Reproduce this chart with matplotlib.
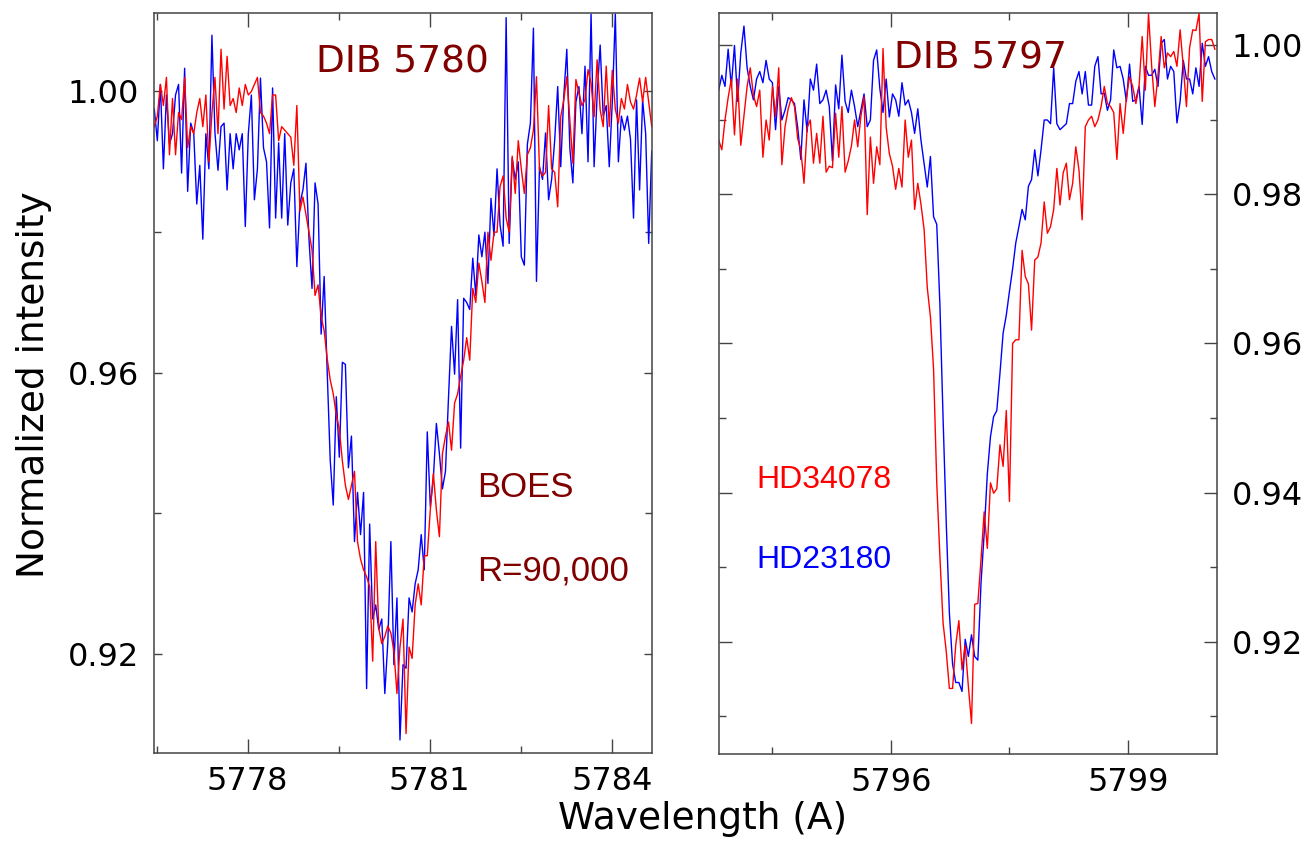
import numpy as np
import matplotlib.pyplot as plt
from matplotlib.ticker import MultipleLocator, FormatStrFormatter

# BOES spectra (R=90,000), normalized flux around the 5780 and 5797 DIBs
hd34078_5780 = [
    0.9950, 0.9965, 1.0010, 0.9980, 1.0020, 0.9910, 0.9990, 0.9910, 0.9970, 0.9960,
    1.0020, 0.9920, 0.9950, 0.9940, 0.9970, 0.9990, 0.9950, 0.9995, 0.9900, 0.9970,
    1.0020, 0.9940, 1.0060, 0.9975, 1.0050, 0.9980, 0.9990, 0.9970, 1.0005, 0.9980,
    1.0010, 0.9995, 1.0000, 1.0010, 1.0020, 0.9970, 0.9965, 0.9955, 0.9940, 0.9995,
    0.9995, 0.9930, 0.9950, 0.9945, 0.9940, 0.9935, 0.9895, 0.9980, 0.9830, 0.9850,
    0.9825, 0.9800, 0.9775, 0.9710, 0.9725, 0.9680, 0.9660, 0.9620, 0.9590, 0.9570,
    0.9540, 0.9520, 0.9475, 0.9440, 0.9420, 0.9440, 0.9460, 0.9360, 0.9335, 0.9320,
    0.9310, 0.9296, 0.9190, 0.9360, 0.9237, 0.9215, 0.9225, 0.9240, 0.9230, 0.9205,
    0.9144, 0.9210, 0.9250, 0.9087, 0.9210, 0.9194, 0.9270, 0.9300, 0.9270, 0.9340,
    0.9340, 0.9405, 0.9457, 0.9405, 0.9367, 0.9485, 0.9510, 0.9530, 0.9490, 0.9557,
    0.9570, 0.9595, 0.9618, 0.9650, 0.9618, 0.9720, 0.9700, 0.9756, 0.9730, 0.9700,
    0.9800, 0.9760, 0.9800, 0.9800, 0.9865, 0.9880, 0.9820, 0.9800, 0.9908, 0.9855,
    0.9930, 0.9890, 0.9855, 0.9910, 0.9920, 0.9945, 1.0021, 0.9889, 0.9880, 0.9885,
    0.9980, 0.9890, 0.9885, 0.9836, 0.9964, 0.9988, 1.0021, 0.9960, 0.9898, 1.0017,
    0.9998, 0.9980, 0.9988, 1.0031, 1.0012, 0.9964, 1.0045, 0.9974, 0.9950, 1.0036,
    0.9950, 1.0030, 0.9975, 0.9955, 0.9990, 0.9975, 1.0010, 0.9985, 0.9975, 0.9995,
    1.0019, 0.9985, 1.0020, 0.9985, 0.9950,
]
hd23180_5780 = [
    0.9975, 0.9930, 1.0010, 0.9890, 0.9995, 0.9925, 0.9940, 0.9995, 1.0010, 0.9884,
    1.0033, 0.9858, 0.9955, 0.9941, 0.9840, 0.9895, 0.9790, 0.9940, 0.9890, 1.0080,
    0.9941, 0.9888, 0.9950, 0.9955, 0.9860, 0.9940, 0.9890, 0.9940, 0.9917, 0.9940,
    0.9808, 0.9940, 0.9995, 0.9846, 0.9890, 1.0019, 0.9920, 0.9900, 0.9806, 1.0005,
    0.9820, 0.9927, 0.9820, 0.9940, 0.9810, 0.9870, 0.9890, 0.9751, 0.9840, 0.9860,
    0.9898, 0.9790, 0.9720, 0.9870, 0.9840, 0.9655, 0.9737, 0.9602, 0.9476, 0.9412,
    0.9566, 0.9480, 0.9615, 0.9612, 0.9465, 0.9510, 0.9360, 0.9430, 0.9370, 0.9430,
    0.9151, 0.9385, 0.9250, 0.9270, 0.9235, 0.9250, 0.9144, 0.9218, 0.9360, 0.9185,
    0.9280, 0.9078, 0.9185, 0.9180, 0.9280, 0.9260, 0.9300, 0.9320, 0.9370, 0.9320,
    0.9516, 0.9410, 0.9450, 0.9528, 0.9485, 0.9435, 0.9460, 0.9565, 0.9666, 0.9598,
    0.9704, 0.9493, 0.9706, 0.9700, 0.9690, 0.9763, 0.9710, 0.9796, 0.9765, 0.9800,
    0.9727, 0.9848, 0.9795, 0.9890, 0.9810, 0.9780, 1.0105, 0.9784, 0.9905, 0.9875,
    0.9900, 0.9765, 0.9753, 0.9925, 0.9955, 1.0090, 0.9730, 0.9893, 0.9875, 0.9941,
    0.9846, 0.9875, 0.9930, 1.0007, 0.9893, 0.9993, 1.0060, 0.9920, 0.9870, 0.9985,
    1.0007, 0.9940, 1.0036, 0.9900, 1.0110, 0.9893, 0.9995, 1.0066, 0.9965, 0.9980,
    0.9893, 0.9985, 1.0110, 0.9900, 0.9965, 0.9945, 0.9965, 0.9932, 0.9820, 0.9988,
    0.9860, 0.9988, 0.9940, 0.9784, 0.9915,
]
hd34078_5797 = [
    0.9873, 0.9860, 0.9900, 0.9930, 0.9955, 0.9880, 0.9955, 0.9866, 0.9905, 0.9945,
    0.9970, 0.9933, 0.9918, 0.9940, 0.9850, 0.9900, 0.9873, 0.9945, 0.9905, 0.9970,
    0.9840, 0.9891, 0.9915, 0.9930, 0.9918, 0.9875, 0.9860, 0.9815, 0.9890, 0.9900,
    0.9842, 0.9882, 0.9842, 0.9905, 0.9830, 0.9838, 0.9836, 0.9909, 0.9850, 0.9918,
    0.9830, 0.9845, 0.9865, 0.9900, 0.9864, 0.9905, 0.9931, 0.9773, 0.9877, 0.9815,
    0.9864, 0.9840, 0.9996, 0.9890, 0.9855, 0.9838, 0.9807, 0.9835, 0.9810, 0.9900,
    0.9850, 0.9873, 0.9780, 0.9815, 0.9787, 0.9753, 0.9675, 0.9636, 0.9565, 0.9413,
    0.9314, 0.9225, 0.9187, 0.9137, 0.9137, 0.9195, 0.9228, 0.9162, 0.9195, 0.9140,
    0.9090, 0.9250, 0.9251, 0.9310, 0.9374, 0.9325, 0.9413, 0.9399, 0.9405, 0.9464,
    0.9435, 0.9510, 0.9388, 0.9600, 0.9605, 0.9605, 0.9725, 0.9690, 0.9680, 0.9618,
    0.9712, 0.9716, 0.9735, 0.9790, 0.9748, 0.9757, 0.9780, 0.9835, 0.9786, 0.9829,
    0.9842, 0.9793, 0.9815, 0.9864, 0.9833, 0.9766, 0.9891, 0.9900, 0.9905, 0.9891,
    0.9900, 0.9918, 0.9945, 0.9922, 0.9918, 0.9910, 0.9847, 0.9922, 0.9882, 0.9930,
    0.9958, 0.9945, 0.9922, 0.9945, 1.0012, 0.9940, 1.0043, 0.9972, 0.9918, 0.9960,
    1.0012, 0.9970, 0.9990, 0.9985, 0.9992, 0.9972, 1.0021, 0.9972, 0.9918, 0.9997,
    1.0021, 1.0020, 1.0043, 0.9925, 1.0005, 1.0008, 1.0008, 0.9995,
]
hd23180_5797 = [
    0.9940, 0.9960, 0.9945, 0.9995, 0.9945, 1.0000, 0.9925, 0.9990, 1.0026, 0.9970,
    0.9945, 0.9927, 0.9955, 0.9965, 0.9950, 0.9980, 0.9955, 0.9950, 0.9887, 0.9945,
    0.9900, 0.9913, 0.9930, 0.9927, 0.9922, 0.9890, 0.9847, 0.9927, 0.9884, 0.9955,
    0.9940, 0.9975, 0.9922, 0.9927, 0.9940, 0.9918, 0.9845, 0.9947, 0.9915, 0.9987,
    0.9925, 0.9910, 0.9940, 0.9918, 0.9891, 0.9913, 0.9935, 0.9891, 0.9900, 0.9980,
    0.9994, 0.9942, 0.9910, 0.9955, 0.9904, 0.9935, 0.9927, 0.9905, 0.9950, 0.9920,
    0.9927, 0.9910, 0.9882, 0.9915, 0.9873, 0.9842, 0.9810, 0.9851, 0.9770, 0.9760,
    0.9652, 0.9500, 0.9360, 0.9238, 0.9170, 0.9145, 0.9145, 0.9133, 0.9203, 0.9180,
    0.9209, 0.9180, 0.9175, 0.9278, 0.9345, 0.9425, 0.9475, 0.9502, 0.9510, 0.9560,
    0.9614, 0.9638, 0.9670, 0.9700, 0.9735, 0.9757, 0.9780, 0.9766, 0.9811, 0.9820,
    0.9860, 0.9825, 0.9860, 0.9900, 0.9900, 0.9895, 0.9970, 0.9895, 0.9887, 0.9891,
    0.9895, 0.9922, 0.9922, 0.9952, 0.9965, 0.9935, 0.9965, 0.9920, 0.9920, 0.9972,
    0.9985, 0.9935, 0.9936, 0.9913, 0.9927, 0.9994, 0.9970, 0.9972, 0.9955, 0.9925,
    0.9975, 0.9925, 0.9927, 0.9945, 0.9894, 0.9972, 0.9960, 0.9960, 0.9968, 0.9945,
    1.0003, 1.0008, 0.9955, 0.9972, 0.9965, 0.9896, 0.9925, 0.9980, 0.9955, 0.9955,
    0.9935, 0.9970, 0.9945, 1.0003, 0.9972, 0.9985, 0.9965, 0.9955,
]

# linear wavelength grids (start, step in Angstrom)
wl_5780 = 5776.46 + 0.05 * np.arange(len(hd34078_5780))
wl_5797 = 5793.82 + 0.04 * np.arange(len(hd34078_5797))

dark = '#800000'
spine_col = '#444444'

fig = plt.figure(figsize=(13.1, 8.52), dpi=100)
ax1 = fig.add_axes([0.1176, 0.1158, 0.3799, 0.8693])
ax2 = fig.add_axes([0.5486, 0.1150, 0.3806, 0.8701])

ax1.plot(wl_5780, hd23180_5780, color='blue', lw=1.0)
ax1.plot(wl_5780, hd34078_5780, color='red', lw=1.0)
ax2.plot(wl_5797, hd23180_5797, color='blue', lw=1.0)
ax2.plot(wl_5797, hd34078_5797, color='red', lw=1.0)

ax1.set_xlim(5776.456, 5784.66)
ax1.set_ylim(0.9059, 1.0112)
ax2.set_xlim(5793.82, 5800.13)
ax2.set_ylim(0.9049, 1.0044)

for ax in (ax1, ax2):
    ax.xaxis.set_major_locator(MultipleLocator(3))
    ax.xaxis.set_minor_locator(MultipleLocator(1.5))
    ax.xaxis.set_major_formatter(FormatStrFormatter('%d'))
    ax.yaxis.set_major_formatter(FormatStrFormatter('%.2f'))
    ax.tick_params(which='both', direction='in', top=True, bottom=True,
                   left=True, right=True, color=spine_col, width=1.0,
                   labelsize=23)
    ax.tick_params(axis='x', which='major', length=10, pad=9)
    ax.tick_params(axis='x', which='minor', length=5)
    for sp in ax.spines.values():
        sp.set_color(spine_col)
        sp.set_linewidth(1.1)

ax1.yaxis.set_major_locator(MultipleLocator(0.04))
ax1.yaxis.set_minor_locator(MultipleLocator(0.02))
ax1.tick_params(axis='y', which='major', length=6, pad=11)
ax1.tick_params(axis='y', which='minor', length=5)

ax2.yaxis.set_major_locator(MultipleLocator(0.02))
ax2.yaxis.set_minor_locator(MultipleLocator(0.01))
ax2.tick_params(axis='y', which='major', length=9.5, pad=10.5,
                labelleft=False, labelright=True)
ax2.tick_params(axis='y', which='minor', length=5)

# panel annotations
ax1.text(0.4993, 0.9186, 'DIB 5780', transform=ax1.transAxes, ha='center',
         va='baseline', fontsize=27, color=dark)
ax1.text(0.649, 0.3465, 'BOES', transform=ax1.transAxes, ha='left',
         va='baseline', fontsize=25, color=dark, family='Liberation Sans')
ax1.text(0.649, 0.234, 'R=90,000', transform=ax1.transAxes, ha='left',
         va='baseline', fontsize=25, color=dark, family='Liberation Sans')

ax2.text(0.525, 0.925, 'DIB 5797', transform=ax2.transAxes, ha='center',
         va='baseline', fontsize=27, color=dark)
ax2.text(0.0762, 0.3584, 'HD34078', transform=ax2.transAxes, ha='left',
         va='baseline', fontsize=23, color='red', family='Liberation Sans')
ax2.text(0.0762, 0.2505, 'HD23180', transform=ax2.transAxes, ha='left',
         va='baseline', fontsize=23, color='blue', family='Liberation Sans')

fig.text(0.5363, 0.027, 'Wavelength (A)', ha='center', va='baseline',
         fontsize=27)
fig.text(0.0256, 0.548, 'Normalized intensity', rotation=90, ha='center',
         va='center', fontsize=27)

fig.savefig('out.png', dpi=100)
